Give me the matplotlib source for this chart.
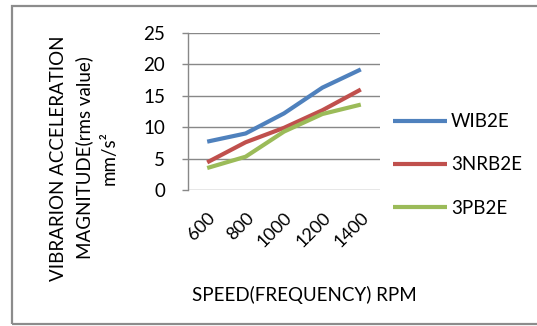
import matplotlib
matplotlib.use('Agg')
import matplotlib.pyplot as plt
from matplotlib.patches import Rectangle

# Data
speeds = ['600', '800', '1000', '1200', '1400']
wib2e = [7.7, 9.0, 12.2, 16.3, 19.2]
nrb2e = [4.4, 7.6, 9.9, 12.7, 16.0]
pb2e = [3.5, 5.3, 9.3, 12.1, 13.6]
series_names = ['WIB2E', '3NRB2E', '3PB2E']
colors = ['#4F81BD', '#C0504D', '#9BBB59']
yticks = [0, 5, 10, 15, 20, 25]

plt.rcParams['font.family'] = ['Lato', 'DejaVu Sans']

fig = plt.figure(figsize=(5.37, 3.26), dpi=100)
W, H = 537, 326

# outer chart border
fig.patches.append(Rectangle((12 / W, 1 - 324 / H), 530 / W, 318 / H,
                             transform=fig.transFigure, fill=False,
                             edgecolor='#8c8c8c', linewidth=1.6))

ax = fig.add_axes([188 / W, 1 - 190 / H, 192 / W, 157 / H])
x = range(len(speeds))
for vals, name, c in zip([wib2e, nrb2e, pb2e], series_names, colors):
    ax.plot(x, vals, color=c, linewidth=3, label=name, solid_capstyle='butt')

ax.set_xlim(-0.5, len(speeds) - 0.5)
ax.set_ylim(0, 25)
ax.set_yticks(yticks)
ax.set_xticks(list(x))
ax.set_xticklabels(speeds, rotation=45, ha='right', va='top',
                   rotation_mode='anchor', fontsize=13)
ax.tick_params(axis='y', labelsize=13.5, length=4.5, color='#888888',
               width=1, pad=12)
ax.tick_params(axis='x', length=0, pad=14)
ax.grid(axis='y', color='#888888', linewidth=1)
ax.set_axisbelow(True)
for s in ['top', 'right', 'bottom']:
    ax.spines[s].set_visible(False)
ax.spines['left'].set_color('#888888')
ax.spines['left'].set_linewidth(1)

fig.text(304 / W, 1 - 295 / H, 'SPEED(FREQUENCY) RPM', ha='center',
         va='center', fontsize=13.5)
fig.text(84 / W, 1 - 158 / H,
         'VIBRARION ACCELERATION\nMAGNITUDE(rms value)\nmm/s\u00b2',
         ha='center', va='center', rotation=90, fontsize=13.5,
         linespacing=1.55)

fig.legend(loc='center left', bbox_to_anchor=(376 / W, 1 - 165 / H),
           frameon=False, fontsize=13.5, handlelength=2.9, labelspacing=1.4,
           handletextpad=0.2)

fig.savefig('out.png', dpi=100)
